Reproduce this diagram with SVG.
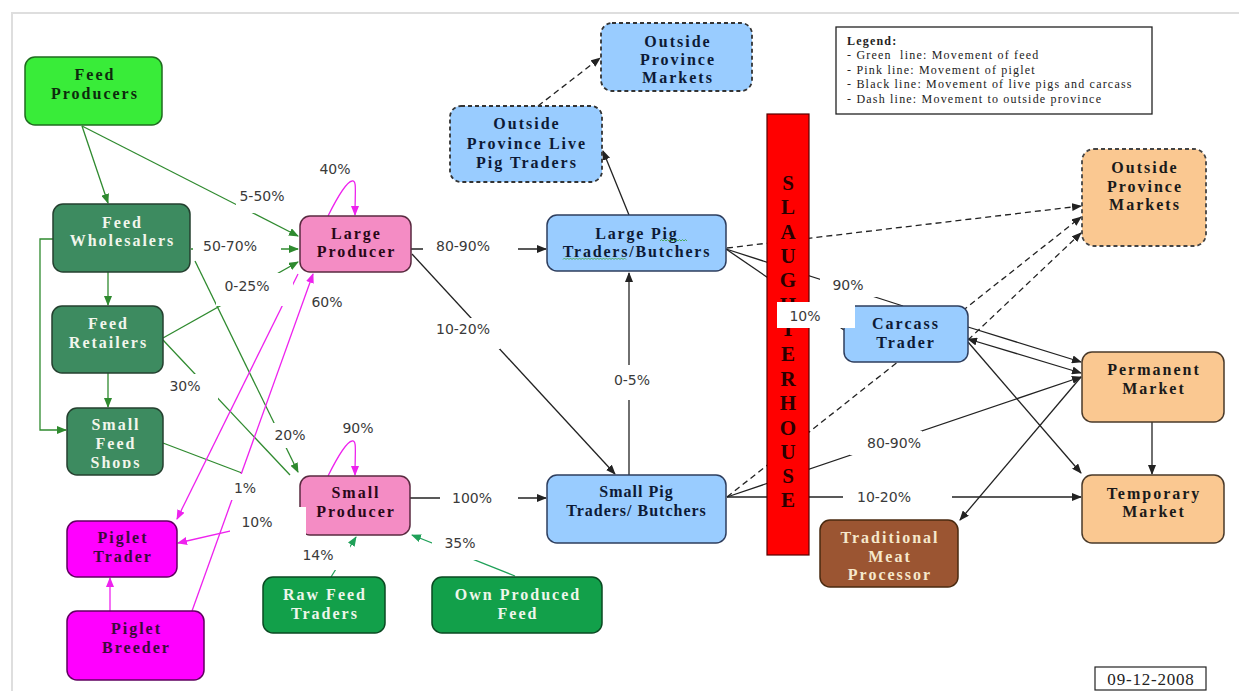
<svg xmlns="http://www.w3.org/2000/svg" width="1239" height="691" viewBox="0 0 1239 691">
<defs>
<style>
.nt{font-family:"Liberation Serif","Times New Roman",serif;font-weight:bold;font-size:16px;letter-spacing:2px;text-anchor:middle}
.lt{font-family:"DejaVu Sans",Tahoma,sans-serif;font-size:14px;fill:#3a3a3a;text-anchor:middle}
.lb{fill:#fff}
.cg{fill:none;stroke:#2f8a2f;stroke-width:1.3}
.ct{fill:none;stroke:#1fa058;stroke-width:1.3}
.cp{fill:none;stroke:#ee22ee;stroke-width:1.3}
.ck{fill:none;stroke:#222;stroke-width:1.3}
.dash{stroke-dasharray:6 4}
.n{stroke-width:1.5}
.dn{stroke-width:1.8;stroke-dasharray:4 3}
.lg{font-family:"Liberation Serif","Times New Roman",serif;font-size:12px;letter-spacing:1.2px;fill:#222}
.sh{font-family:"Liberation Serif","Times New Roman",serif;font-weight:bold;font-size:21px;fill:#2a0000;text-anchor:middle}
</style>
<marker id="ag" markerUnits="userSpaceOnUse" markerWidth="10" markerHeight="8" refX="9" refY="4" orient="auto"><path d="M0,0 L10,4 L0,8 z" fill="#2f8a2f"/></marker>
<marker id="at" markerUnits="userSpaceOnUse" markerWidth="10" markerHeight="8" refX="9" refY="4" orient="auto"><path d="M0,0 L10,4 L0,8 z" fill="#1fa058"/></marker>
<marker id="ap" markerUnits="userSpaceOnUse" markerWidth="10" markerHeight="8" refX="9" refY="4" orient="auto"><path d="M0,0 L10,4 L0,8 z" fill="#ee22ee"/></marker>
<marker id="ak" markerUnits="userSpaceOnUse" markerWidth="10" markerHeight="8" refX="9" refY="4" orient="auto-start-reverse"><path d="M0,0 L10,4 L0,8 z" fill="#222"/></marker>
<clipPath id="shopsClip"><rect x="67" y="408" width="96" height="60"/></clipPath>
</defs>
<rect width="1239" height="691" fill="#fff"/>
<polyline points="12,691 12,13 1239,13" fill="none" stroke="#dedede" stroke-width="2"/>

<g id="connectors">
<!-- feed (green) -->
<path class="cg" d="M82,126 L108,203" marker-end="url(#ag)"/>
<path class="cg" d="M82,126 L298,236" marker-end="url(#ag)"/>
<path class="cg" d="M191,249 L298,249" marker-end="url(#ag)"/>
<path class="cg" d="M163,338 L298,262" marker-end="url(#ag)"/>
<path class="cg" d="M195,261 L298,472" marker-end="url(#ag)"/>
<path class="cg" d="M163,340 L290,475"/>
<path class="cg" d="M163,443 L242,473"/>
<path class="cg" d="M68,239 L40,239 L40,430 L66,430" marker-end="url(#ag)"/>
<path class="cg" d="M108,272 L108,305" marker-end="url(#ag)"/>
<path class="cg" d="M108,373 L108,407" marker-end="url(#ag)"/>
<path class="ct" d="M331,577 L356,537" marker-end="url(#at)"/>
<path class="ct" d="M515,576 L412,535" marker-end="url(#at)"/>
<!-- piglet (pink) -->
<path class="cp" d="M328,216 C336,200 346,182 352,181 C357,180 355,190 355,215" marker-end="url(#ap)"/>
<path class="cp" d="M328,476 C336,460 346,442 352,441 C357,440 355,450 355,475" marker-end="url(#ap)"/>
<path class="cp" d="M298,274 L177,519" marker-end="url(#ap)"/>
<path class="cp" d="M192,611 L313,274" marker-end="url(#ap)"/>
<path class="cp" d="M300,515 L178,543" marker-end="url(#ap)"/>
<path class="cp" d="M110,611 L110,578" marker-end="url(#ap)"/>
<!-- live pigs and carcass (black) -->
<path class="ck" d="M411,249 L546,249" marker-end="url(#ak)"/>
<path class="ck" d="M412,254 L615,474" marker-end="url(#ak)"/>
<path class="ck" d="M410,498 L546,498" marker-end="url(#ak)"/>
<path class="ck" d="M629,475 L629,273" marker-end="url(#ak)"/>
<path class="ck" d="M629,215 L603,151" marker-end="url(#ak)"/>
<path class="ck dash" d="M538,106 L600,58" marker-end="url(#ak)"/>
<path class="ck dash" d="M727,248 L1081,206" marker-end="url(#ak)"/>
<path class="ck" d="M726,249 L903,306"/>
<path class="ck" d="M726,249 L844,330"/>
<path class="ck dash" d="M727,497 L1081,217" marker-end="url(#ak)"/>
<path class="ck" d="M727,497 L1081,377" marker-end="url(#ak)"/>
<path class="ck" d="M727,497 L1081,497" marker-end="url(#ak)"/>
<path class="ck" d="M968,327 L1081,362" marker-end="url(#ak)"/>
<path class="ck" d="M968,339 L1081,373" marker-start="url(#ak)" marker-end="url(#ak)"/>
<path class="ck" d="M968,342 L1081,473" marker-end="url(#ak)"/>
<path class="ck dash" d="M968,340 L1081,233" marker-end="url(#ak)"/>
<path class="ck" d="M1152,421 L1152,474" marker-end="url(#ak)"/>
<path class="ck" d="M1081,377 L960,520" marker-end="url(#ak)"/>
</g>

<g id="feed-producers"><rect class="n" x="25" y="57" width="137" height="68" rx="10" fill="#39ec39" stroke="#1f6b1f"/><text class="nt" fill="#0d2a0d" x="95" y="79.5">Feed</text><text class="nt" fill="#0d2a0d" x="95" y="98.5">Producers</text></g>
<g id="feed-wholesalers"><rect class="n" x="53" y="204" width="137" height="68" rx="10" fill="#3d8b60" stroke="#24402f"/><text class="nt" fill="#f2f6ec" x="122.5" y="227.5">Feed</text><text class="nt" fill="#f2f6ec" x="122.5" y="245.5">Wholesalers</text></g>
<g id="feed-retailers"><rect class="n" x="52" y="306" width="111" height="67" rx="10" fill="#3d8b60" stroke="#24402f"/><text class="nt" fill="#f2f6ec" x="108.5" y="328.5">Feed</text><text class="nt" fill="#f2f6ec" x="108.5" y="347.5">Retailers</text></g>
<g id="small-feed-shops"><rect class="n" x="67" y="408" width="96" height="67" rx="10" fill="#3d8b60" stroke="#24402f"/><g clip-path="url(#shopsClip)"><text class="nt" fill="#f2f6ec" x="116" y="429.5">Small</text><text class="nt" fill="#f2f6ec" x="116" y="448.5">Feed</text><text class="nt" fill="#f2f6ec" x="116" y="467.5">Shops</text></g></g>
<g id="large-producer"><rect class="n" x="300" y="216" width="111" height="56" rx="10" fill="#f48cc4" stroke="#5a2a40"/><text class="nt" fill="#2a0818" x="356.5" y="238.5">Large</text><text class="nt" fill="#2a0818" x="356.5" y="256.5">Producer</text></g>
<g id="small-producer"><rect class="n" x="300" y="476" width="110" height="59" rx="10" fill="#f48cc4" stroke="#5a2a40"/><text class="nt" fill="#2a0818" x="356" y="497.5">Small</text><text class="nt" fill="#2a0818" x="356" y="516.5">Producer</text></g>
<g id="piglet-trader"><rect class="n" x="67" y="521" width="110" height="56" rx="10" fill="#ff00ff" stroke="#600060"/><text class="nt" fill="#3c0a3c" x="123" y="542.5">Piglet</text><text class="nt" fill="#3c0a3c" x="123" y="561.5">Trader</text></g>
<g id="piglet-breeder"><rect class="n" x="67" y="611" width="137" height="69" rx="10" fill="#ff00ff" stroke="#600060"/><text class="nt" fill="#3c0a3c" x="136.5" y="633.5">Piglet</text><text class="nt" fill="#3c0a3c" x="136.5" y="652.5">Breeder</text></g>
<g id="raw-feed-traders"><rect class="n" x="263" y="577" width="122" height="56" rx="10" fill="#12a04a" stroke="#0a4a22"/><text class="nt" fill="#eef6ea" x="325" y="599.5">Raw Feed</text><text class="nt" fill="#eef6ea" x="325" y="618.5">Traders</text></g>
<g id="own-produced-feed"><rect class="n" x="432" y="577" width="170" height="56" rx="10" fill="#12a04a" stroke="#0a4a22"/><text class="nt" fill="#eef6ea" x="518" y="599.5">Own Produced</text><text class="nt" fill="#eef6ea" x="518" y="618.5">Feed</text></g>
<g id="outside-markets-blue"><rect class="dn" x="601" y="23" width="151" height="68" rx="11" fill="#99ccff" stroke="#333"/><text class="nt" fill="#0d1a36" x="678" y="46.5">Outside</text><text class="nt" fill="#0d1a36" x="678" y="65">Province</text><text class="nt" fill="#0d1a36" x="678" y="82.5">Markets</text></g>
<g id="outside-live-pig-traders"><rect class="dn" x="450" y="106" width="152" height="76" rx="11" fill="#99ccff" stroke="#333"/><text class="nt" fill="#0d1a36" x="527" y="128.5">Outside</text><text class="nt" fill="#0d1a36" x="527" y="148.5">Province Live</text><text class="nt" fill="#0d1a36" x="527" y="167.5">Pig Traders</text></g>
<g id="large-pig-traders"><rect class="n" x="547" y="215" width="179" height="56" rx="10" fill="#99ccff" stroke="#2e3e5e"/><text class="nt" fill="#0d1a36" x="637" y="238.5" style="letter-spacing:1.8px">Large Pig</text><text class="nt" fill="#0d1a36" x="637" y="256.5" style="letter-spacing:1.8px">Traders/Butchers</text><path d="M660,241 l1.5,-1.5 l1.5,1.5 l1.5,-1.5 l1.5,1.5 l1.5,-1.5 l1.5,1.5 l1.5,-1.5 l1.5,1.5 l1.5,-1.5 l1.5,1.5 l1.5,-1.5 l1.5,1.5 l1.5,-1.5 l1.5,1.5 l1.5,-1.5 l1.5,1.5 l1.5,-1.5 l1.5,1.5" fill="none" stroke="#3aa03a" stroke-width="0.8"/><path d="M563,259.5 l1.5,-1.5 l1.5,1.5 l1.5,-1.5 l1.5,1.5 l1.5,-1.5 l1.5,1.5 l1.5,-1.5 l1.5,1.5 l1.5,-1.5 l1.5,1.5 l1.5,-1.5 l1.5,1.5 l1.5,-1.5 l1.5,1.5 l1.5,-1.5 l1.5,1.5 l1.5,-1.5 l1.5,1.5 l1.5,-1.5 l1.5,1.5 l1.5,-1.5 l1.5,1.5 l1.5,-1.5 l1.5,1.5 l1.5,-1.5 l1.5,1.5 l1.5,-1.5 l1.5,1.5 l1.5,-1.5 l1.5,1.5 l1.5,-1.5 l1.5,1.5 l1.5,-1.5 l1.5,1.5 l1.5,-1.5 l1.5,1.5 l1.5,-1.5 l1.5,1.5 l1.5,-1.5 l1.5,1.5 l1.5,-1.5 l1.5,1.5" fill="none" stroke="#3aa03a" stroke-width="0.8"/></g>
<g id="small-pig-traders"><rect class="n" x="547" y="475" width="179" height="68" rx="10" fill="#99ccff" stroke="#2e3e5e"/><text class="nt" fill="#0d1a36" x="636.5" y="496.5" style="letter-spacing:1px">Small Pig</text><text class="nt" fill="#0d1a36" x="636.5" y="515.5" style="letter-spacing:1px">Traders/ Butchers</text></g>
<g id="slaughterhouse"><rect x="767" y="114" width="42" height="441" fill="#ff0000" stroke="#550000" stroke-width="1.2"/>
<text class="sh" x="788" y="189.5">S</text><text class="sh" x="788" y="213.5">L</text><text class="sh" x="788" y="238.5">A</text><text class="sh" x="788" y="262.5">U</text><text class="sh" x="788" y="286.5">G</text><text class="sh" x="788" y="311.5">H</text><text class="sh" x="788" y="335.5">T</text><text class="sh" x="788" y="360.5">E</text><text class="sh" x="788" y="385.5">R</text><text class="sh" x="788" y="409.5">H</text><text class="sh" x="788" y="434.5">O</text><text class="sh" x="788" y="458.5">U</text><text class="sh" x="788" y="482.5">S</text><text class="sh" x="788" y="506.5">E</text></g>
<g id="outside-markets-orange"><rect class="dn" x="1082" y="149" width="124" height="97" rx="12" fill="#fac891" stroke="#444"/><text class="nt" fill="#1a1a1a" x="1145" y="172.5">Outside</text><text class="nt" fill="#1a1a1a" x="1145" y="191.5">Province</text><text class="nt" fill="#1a1a1a" x="1145" y="209.5">Markets</text></g>
<g id="carcass-trader"><rect class="n" x="844" y="306" width="124" height="56" rx="10" fill="#99ccff" stroke="#2e3e5e"/><text class="nt" fill="#0d1a36" x="906" y="328.5">Carcass</text><text class="nt" fill="#0d1a36" x="906" y="347.5">Trader</text></g>
<g id="permanent-market"><rect class="n" x="1082" y="352" width="142" height="70" rx="10" fill="#fac891" stroke="#4a3a2a"/><text class="nt" fill="#1a1a1a" x="1154" y="374.5">Permanent</text><text class="nt" fill="#1a1a1a" x="1154" y="393.5">Market</text></g>
<g id="temporary-market"><rect class="n" x="1082" y="475" width="142" height="68" rx="10" fill="#fac891" stroke="#4a3a2a"/><text class="nt" fill="#1a1a1a" x="1154" y="498.5">Temporary</text><text class="nt" fill="#1a1a1a" x="1154" y="516.5">Market</text></g>
<g id="traditional-meat-processor"><rect class="n" x="820" y="520" width="138" height="67" rx="10" fill="#9b5532" stroke="#4a2a10"/><text class="nt" fill="#f6e8cc" x="890" y="542.5">Traditional</text><text class="nt" fill="#f6e8cc" x="890" y="561.5">Meat</text><text class="nt" fill="#f6e8cc" x="890" y="579.5">Processor</text></g>

<g id="labels">
<g><rect class="lb" x="236" y="185" width="54" height="28"/><text class="lt" x="262" y="201">5-50%</text></g>
<g><rect class="lb" x="319" y="160" width="33" height="17"/><text class="lt" x="335" y="174">40%</text></g>
<g><rect class="lb" x="193" y="237" width="88" height="19"/><text class="lt" x="230" y="251">50-70%</text></g>
<g><rect class="lb" x="216" y="273" width="77" height="33"/><text class="lt" x="247" y="291">0-25%</text></g>
<g><rect class="lb" x="311" y="293" width="33" height="18"/><text class="lt" x="327" y="307">60%</text></g>
<g><rect class="lb" x="168" y="374" width="50" height="26"/><text class="lt" x="185" y="391">30%</text></g>
<g><rect class="lb" x="270" y="423" width="42" height="25"/><text class="lt" x="290" y="440">20%</text></g>
<g><rect class="lb" x="341" y="420" width="34" height="16"/><text class="lt" x="358" y="433">90%</text></g>
<g><rect class="lb" x="228" y="474" width="34" height="26"/><text class="lt" x="245" y="493">1%</text></g>
<g><rect class="lb" x="230" y="507" width="76" height="30"/><text class="lt" x="257" y="527">10%</text></g>
<g><rect class="lb" x="300" y="544" width="50" height="26"/><text class="lt" x="318" y="560">14%</text></g>
<g><rect class="lb" x="432" y="533" width="46" height="27"/><text class="lt" x="460" y="548">35%</text></g>
<g><rect class="lb" x="423" y="237" width="95" height="19"/><text class="lt" x="463" y="251">80-90%</text></g>
<g><rect class="lb" x="425" y="318" width="75" height="31"/><text class="lt" x="463" y="334">10-20%</text></g>
<g><rect class="lb" x="440" y="489" width="78" height="18"/><text class="lt" x="472" y="503">100%</text></g>
<g><rect class="lb" x="608" y="365" width="48" height="35"/><text class="lt" x="632" y="385">0-5%</text></g>
<g><rect class="lb" x="820" y="275" width="58" height="22"/><text class="lt" x="848" y="290">90%</text></g>
<g><rect class="lb" x="777" y="302" width="78" height="26"/><text class="lt" x="805" y="321">10%</text></g>
<g><rect class="lb" x="850" y="431" width="72" height="24"/><text class="lt" x="894" y="448">80-90%</text></g>
<g><rect class="lb" x="843" y="488" width="109" height="18"/><text class="lt" x="884" y="502">10-20%</text></g>
</g>

<g id="legend"><rect x="836" y="27" width="316" height="87" fill="#fff" stroke="#222" stroke-width="1.3"/>
<text class="lg" x="847" y="45" font-weight="bold">Legend:</text>
<text class="lg" x="847" y="59" xml:space="preserve">- Green  line: Movement of feed</text>
<text class="lg" x="847" y="73.5">- Pink line: Movement of piglet</text>
<text class="lg" x="847" y="88">- Black line: Movement of live pigs and carcass</text>
<text class="lg" x="847" y="102.5">- Dash line: Movement to outside province</text></g>

<g id="date"><rect x="1095" y="667" width="111" height="23" fill="#fff" stroke="#222" stroke-width="1.2"/><text x="1151" y="685" font-family="Liberation Serif, Times New Roman, serif" font-size="17" letter-spacing="0.8" fill="#222" text-anchor="middle">09-12-2008</text></g>
</svg>
